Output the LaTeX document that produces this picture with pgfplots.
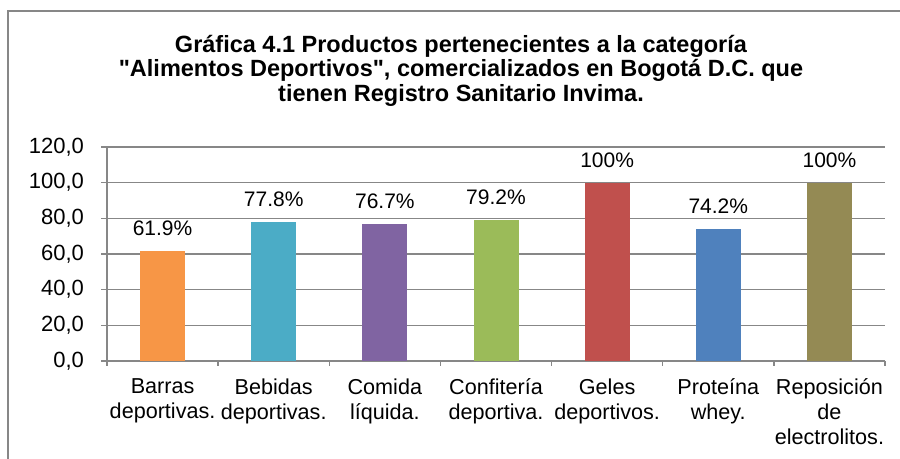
\documentclass[border=0pt]{standalone}
\usepackage{pgfplots}
\pgfplotsset{compat=1.18}
\usepackage{fontspec}
\setmainfont{Liberation Sans}
\definecolor{cOr}{HTML}{F79646}
\definecolor{cAq}{HTML}{4BACC6}
\definecolor{cPu}{HTML}{8064A2}
\definecolor{cGr}{HTML}{9BBB59}
\definecolor{cRe}{HTML}{C0504D}
\definecolor{cBl}{HTML}{4F81BD}
\definecolor{cOl}{HTML}{948A54}
\definecolor{gridc}{HTML}{878787}
\begin{document}
\begin{tikzpicture}
\path[use as bounding box] (0,0) rectangle (450pt,229.5pt);
\draw[gridc, line width=1pt] (4pt,0) -- (4pt,224pt) -- (450pt,224pt);
\begin{scope}[font=\bfseries\fontsize{11.75}{13}\selectfont]
\node[anchor=base] at (230.5pt,203pt) {Gráfica 4.1 Productos pertenecientes a la categoría};
\node[anchor=base] at (230.5pt,191pt) {\textquotedbl Alimentos Deportivos\textquotedbl, comercializados en Bogotá D.C. que};
\node[anchor=base] at (230.5pt,178.5pt) {tienen Registro Sanitario Invima.};
\end{scope}
\begin{axis}[
  at={(53.5pt,49pt)}, anchor=south west,
  scale only axis, width=389pt, height=107pt,
  xmin=-0.5, xmax=6.5, ymin=0, ymax=120,
  axis x line=bottom, axis y line=left,
  axis line style={gridc, line width=0.75pt, -},
  ytick={0,20,...,120},
  ymajorgrids, major grid style={gridc, line width=0.75pt},
  xtick={0,...,6},
  xticklabels={Barras\\deportivas., Bebidas\\deportivas., Comida\\líquida., Confitería\\deportiva., Geles\\deportivos., Proteína\\whey., Reposición\\de\\electrolitos.},
  minor xtick={-0.5,0.5,...,6.5},
  tick align=outside,
  major tick length=3pt, minor tick length=2.5pt,
  every tick/.style={gridc, line width=0.75pt},
  major x tick style={draw=none},
  xticklabel style={align=center, font=\fontsize{10.8}{12.5}\selectfont, text=black, yshift=-2.5pt},
  yticklabel style={font=\fontsize{11}{13}\selectfont, text=black, xshift=-5pt},
  /pgf/number format/assume math mode=true,
  yticklabel={\pgfmathprintnumber[fixed, fixed zerofill, precision=1, use comma]{\tick}},
  ybar, bar width=22.5pt, bar shift=0pt,
  point meta=explicit symbolic,
  nodes near coords,
  every node near coord/.style={anchor=base, yshift=7.75pt, font=\fontsize{10.5}{12.25}\selectfont, text=black},
  clip=false,
]
\addplot[fill=cOr, draw=none] coordinates {(0,61.9) [61.9\%]};
\addplot[fill=cAq, draw=none] coordinates {(1,77.8) [77.8\%]};
\addplot[fill=cPu, draw=none] coordinates {(2,76.7) [76.7\%]};
\addplot[fill=cGr, draw=none] coordinates {(3,79.2) [79.2\%]};
\addplot[fill=cRe, draw=none] coordinates {(4,100) [100\%]};
\addplot[fill=cBl, draw=none] coordinates {(5,74.2) [74.2\%]};
\addplot[fill=cOl, draw=none] coordinates {(6,100) [100\%]};
\end{axis}
\end{tikzpicture}
\end{document}
